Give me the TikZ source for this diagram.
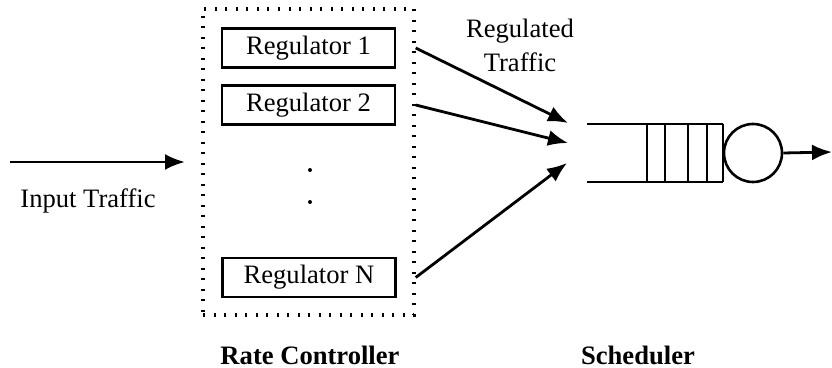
\documentclass[tikz,border=0pt]{standalone}
\usepackage{fontspec}
\setmainfont{Liberation Serif}
\usetikzlibrary{arrows.meta,calc}
\begin{document}
\begin{tikzpicture}[x=0.5pt,y=-0.5pt,
  every node/.style={font=\fontsize{13.3}{17}\selectfont},
  regbox/.style={draw,line width=1.2pt,minimum width=86.5pt,minimum height=19.5pt,inner sep=0pt},
  ctrlbox/.style={draw,line width=1.7pt,dash pattern=on 1pt off 4.25pt,minimum width=105.5pt,minimum height=153pt,inner sep=0pt},
  flow/.style={line width=1.4pt,-{Latex[length=10pt,width=8pt]}},
  qline/.style={line width=1.3pt},
  title/.style={font=\fontsize{13.3}{17}\selectfont\bfseries}]
\useasboundingbox (0,0) rectangle (832,368);

% rate controller with its regulators
\node[ctrlbox] (rc) at (308.5,162) {};
\node[regbox] (r1) at (308.5,48) {Regulator 1};
\node[regbox] (r2) at (308.5,105) {Regulator 2};
\node[regbox] (rn) at (309,277.5) {Regulator N};
\fill (310,170) circle (2);
\fill (310,202) circle (2);

% input traffic
\coordinate (instart) at (10,162);
\coordinate (inend) at (185,162);
\draw[flow] (instart) -- (inend);
\node (inlbl) at (88,201) {Input Traffic};

% regulated traffic into the scheduler
\coordinate (a1) at (568,123);
\coordinate (a2) at (568,143);
\coordinate (a3) at (567,163);
\draw[flow] (rc.east |- r1) -- (a1);
\draw[flow] (rc.east |- r2) -- (a2);
\draw[flow] (rc.east |- rn) -- (a3);
\node[align=center] (reglbl) at (520,45) {Regulated\\Traffic};

% scheduler queue and server
\coordinate (qtl) at (587,124);
\coordinate (qbl) at (587,182);
\draw[qline] (qtl) -- (723,124) (qbl) -- (723,182);
\foreach \x in {647,665,688,707,723}
  \draw[qline] (\x,124) -- (\x,182);
\node[draw,circle,line width=1.3pt,minimum size=29pt,inner sep=0pt] (srv) at (753,153) {};
\coordinate (out) at (832,152);
\draw[flow] (srv.east) -- (out);

% captions
\node[title] (rclbl) at (310,355) {Rate Controller};
\node[title] (schlbl) at (638,355) {Scheduler};
\end{tikzpicture}
\end{document}
